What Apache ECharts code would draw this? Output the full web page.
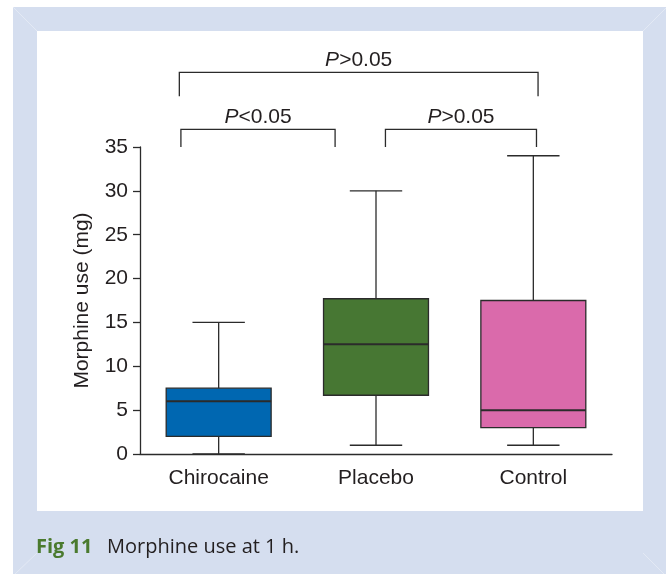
<!DOCTYPE html>
<html>
<head>
<meta charset="utf-8">
<script src="https://cdn.jsdelivr.net/npm/echarts@6/dist/echarts.min.js"></script>
<style>html,body{margin:0;padding:0;background:#fff}#c{width:666px;height:574px}</style>
</head>
<body>
<div id="c"></div>
<script>
// ---- data ----
var categories = ['Chirocaine', 'Placebo', 'Control'];
var mins    = [0, 1, 1];
var q1s     = [2, 6.7, 3];
var medians = [6, 12.5, 5];
var q3s     = [7.5, 17.7, 17.5];
var maxs    = [15, 30, 34];
var boxColors = ['#0067b1', '#477733', '#da6aab'];
var yTicks = [0, 5, 10, 15, 20, 25, 30, 35];
// significance brackets: start/end position (category units), bottom value, top value, label
var bracketFrom  = [-0.24, 1.06, -0.25];
var bracketTo    = [0.74, 2.02, 2.03];
var bracketLow   = [35, 35, 40.8];
var bracketHigh  = [37, 37, 43.5];
var bracketText  = ['<0.05', '>0.05', '>0.05'];
var bracketTextY = [38.4, 38.4, 44.9];

var chart = echarts.init(document.getElementById('c'), null, {renderer: 'canvas'});
var FONT = '"Liberation Sans", Arial, Helvetica, sans-serif';
var CAPFONT = '"Open Sans", "Noto Sans", sans-serif';
var LINE = '#2b2b2b';
var FS = 21;

var boxData = categories.map(function (c, i) {
  return [i, mins[i], q1s[i], medians[i], q3s[i], maxs[i]];
});
var bracketData = bracketFrom.map(function (f, i) {
  return [f, bracketTo[i], bracketLow[i], bracketHigh[i], bracketTextY[i], i];
});

var option = {
  backgroundColor: '#ffffff',
  animation: false,
  graphic: [
    {type: 'rect', z: -10, shape: {x: 13, y: 7, width: 653, height: 567}, style: {fill: '#d5deef'}},
    {type: 'rect', z: -9, shape: {x: 37, y: 31, width: 606, height: 480}, style: {fill: '#ffffff'}},
    {type: 'line', z: -9, shape: {x1: 13, y1: 7, x2: 37, y2: 31}, style: {stroke: '#e3e9f4', lineWidth: 1}},
    {type: 'line', z: -9, shape: {x1: 666, y1: 8, x2: 643, y2: 31}, style: {stroke: '#e3e9f4', lineWidth: 1}},
    {type: 'line', z: -9, shape: {x1: 37, y1: 553, x2: 15, y2: 574}, style: {stroke: '#e3e9f4', lineWidth: 1}},
    {type: 'line', z: -9, shape: {x1: 643, y1: 553, x2: 664, y2: 574}, style: {stroke: '#e3e9f4', lineWidth: 1}},
    {type: 'text', z: 10, x: 36, y: 547, style: {
      text: 'Fig 11', verticalAlign: 'middle',
      fontFamily: CAPFONT, fontSize: 20, fontWeight: 'bold', fill: '#4a7a2e'
    }},
    {type: 'text', z: 10, x: 107, y: 547, style: {
      text: 'Morphine use at 1 h.', verticalAlign: 'middle',
      fontFamily: CAPFONT, fontSize: 20, fill: '#231f20'
    }}
  ],
  grid: {left: 140, right: 54, top: 147, bottom: 120, containLabel: false},
  xAxis: {
    type: 'category',
    data: categories,
    boundaryGap: true,
    axisLine: {lineStyle: {color: LINE, width: 1.3}},
    axisTick: {alignWithLabel: true, length: 8, lineStyle: {color: LINE, width: 1.3}},
    axisLabel: {color: '#231f20', fontFamily: FONT, fontSize: FS, margin: 14},
    splitLine: {show: false}
  },
  yAxis: {
    type: 'value',
    min: 0, max: 35, interval: 5,
    name: 'Morphine use (mg)',
    nameLocation: 'middle',
    nameGap: 47,
    nameTextStyle: {color: '#231f20', fontFamily: FONT, fontSize: FS},
    axisLine: {show: true, lineStyle: {color: LINE, width: 1.3}},
    axisTick: {show: true, length: 7, lineStyle: {color: LINE, width: 1.3}},
    axisLabel: {color: '#231f20', fontFamily: FONT, fontSize: FS, margin: 12,
      formatter: function (v) { return yTicks.indexOf(v) >= 0 ? String(v) : ''; }},
    splitLine: {show: false}
  },
  series: [
    {
      type: 'custom',
      data: boxData,
      z: 3,
      encode: {x: 0, y: [1, 2, 3, 4, 5]},
      renderItem: function (params, api) {
        var i = api.value(0);
        var band = api.size([1, 0])[0];
        var bw = band * 0.667;
        var cw = band * 0.333;
        var pMin = api.coord([i, api.value(1)]);
        var pQ1 = api.coord([i, api.value(2)]);
        var pMed = api.coord([i, api.value(3)]);
        var pQ3 = api.coord([i, api.value(4)]);
        var pMax = api.coord([i, api.value(5)]);
        var x = pMed[0];
        var ls = {stroke: LINE, lineWidth: 1.3};
        return {
          type: 'group',
          children: [
            {type: 'line', shape: {x1: x, y1: pMax[1], x2: x, y2: pQ3[1]}, style: ls},
            {type: 'line', shape: {x1: x, y1: pQ1[1], x2: x, y2: pMin[1]}, style: ls},
            {type: 'line', shape: {x1: x - cw / 2, y1: pMax[1], x2: x + cw / 2, y2: pMax[1]}, style: ls},
            {type: 'line', shape: {x1: x - cw / 2, y1: pMin[1], x2: x + cw / 2, y2: pMin[1]}, style: ls},
            {type: 'rect', shape: {x: x - bw / 2, y: pQ3[1], width: bw, height: pQ1[1] - pQ3[1]},
              style: {fill: boxColors[params.dataIndex], stroke: LINE, lineWidth: 1.3}},
            {type: 'line', shape: {x1: x - bw / 2, y1: pMed[1], x2: x + bw / 2, y2: pMed[1]},
              style: {stroke: LINE, lineWidth: 2}}
          ]
        };
      }
    },
    {
      type: 'custom',
      data: bracketData,
      z: 3,
      clip: false,
      encode: {y: [2, 3, 4]},
      renderItem: function (params, api) {
        var band = api.size([1, 0])[0];
        var x0 = api.coord([0, 0])[0];
        var xa = x0 + api.value(0) * band;
        var xb = x0 + api.value(1) * band;
        var yl = api.coord([0, api.value(2)])[1];
        var yh = api.coord([0, api.value(3)])[1];
        var yt = api.coord([0, api.value(4)])[1];
        var k = params.dataIndex;
        return {
          type: 'group',
          children: [
            {type: 'polyline', shape: {points: [[xa, yl], [xa, yh], [xb, yh], [xb, yl]]},
              style: {stroke: LINE, lineWidth: 1.3, fill: null}},
            {type: 'text', x: (xa + xb) / 2, y: yt, style: {
              text: '{i|P}{n|' + bracketText[k] + '}',
              align: 'center', verticalAlign: 'middle',
              rich: {
                i: {fontFamily: FONT, fontSize: FS, fontStyle: 'italic', fill: '#231f20'},
                n: {fontFamily: FONT, fontSize: FS, fill: '#231f20'}
              }
            }}
          ]
        };
      }
    }
  ]
};
chart.setOption(option);
</script>
</body>
</html>
